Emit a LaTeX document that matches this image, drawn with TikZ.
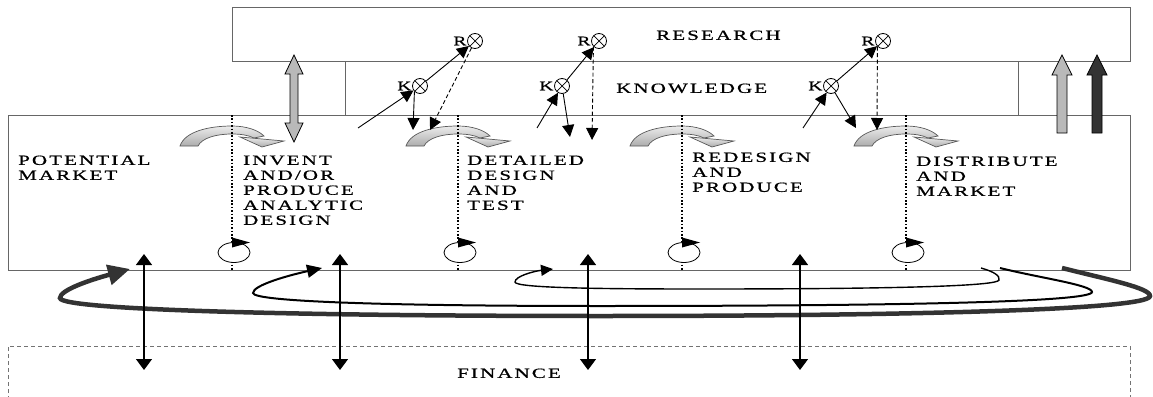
\documentclass[tikz,border=0pt]{standalone}
\usepackage{fontspec}
\setmainfont{Liberation Serif}
\newfontfamily\lbl[FakeStretch=1.5,LetterSpace=15,FakeBold=0.8]{Liberation Serif}
\usetikzlibrary{arrows.meta,calc}
\begin{document}
\begin{tikzpicture}[x=1pt,y=-1pt,
  boxline/.style={draw=black!60, line width=1pt},
  finline/.style={draw=black!55, line width=0.9pt, dash pattern=on 4pt off 3pt},
  lab/.style={font={\lbl\fontsize{14}{15}\selectfont}, inner sep=0pt, align=left, anchor=north west},
  krlab/.style={font={\lbl\fontsize{13}{14}\selectfont}, inner sep=0.5pt, anchor=east},
  xo/.style={circle, draw, minimum size=15pt, inner sep=0pt, line width=0.8pt, fill=white,
    path picture={\draw[line width=0.7pt] (path picture bounding box.south west) -- (path picture bounding box.north east)
      (path picture bounding box.north west) -- (path picture bounding box.south east);}},
  arr/.style={line width=0.9pt, -{Triangle[length=12pt,width=12pt]}},
  darr/.style={line width=0.9pt, dash pattern=on 4pt off 2.5pt, -{Triangle[length=12pt,width=12pt]}},
  finarr/.style={line width=1.3pt, {Triangle[length=11pt,width=16pt]}-{Triangle[length=11pt,width=16pt]}},
  archfill/.style={draw=black!65, line width=0.7pt, top color=gray!15, bottom color=gray!65},
  divider/.style={line width=1.4pt, dash pattern=on 1.6pt off 1.8pt},
  loopA/.style={line width=4.5pt, draw=black!80, -{Triangle[length=22pt,width=20pt]}},
  loopB/.style={line width=2pt, draw=black, -{Triangle[length=15pt,width=13pt]}},
  loopC/.style={line width=1.4pt, draw=black, -{Triangle[length=12pt,width=11pt]}}
]
\useasboundingbox (0,0) rectangle (1153,396);

% boxes
\draw[boxline] (232,8) rectangle (1130,62);
\draw[boxline] (345,62) -- (345,115);
\draw[boxline] (1018,62) -- (1018,115);
\draw[boxline] (8,115) rectangle (1130,270);
\draw[finline] (8,400) -- (8,346) -- (1130,346) -- (1130,400);

% texts
\node[lab] (research) at (656,30.4) {RESEARCH};
\node[lab] (knowledge) at (616,83.4) {KNOWLEDGE};
\node[lab] (potential) at (18,155.4) {POTENTIAL\\MARKET};
\node[lab] (invent) at (243,155.4) {INVENT\\AND/OR\\PRODUCE\\ANALYTIC\\DESIGN};
\node[lab] (detailed) at (467,155.4) {DETAILED\\DESIGN\\AND\\TEST};
\node[lab] (redesign) at (692,152.4) {REDESIGN\\AND\\PRODUCE};
\node[lab] (distribute) at (916,156.4) {DISTRIBUTE\\AND\\MARKET};
\node[lab] (finance) at (457,368.4) {FINANCE};

% stage arches, dividers, small circles
\foreach \xd in {232,458,682,906} {
  \begin{scope}[shift={(\xd,0)}]
    \path[archfill] (-52,146) .. controls (-47,131) and (-22,126) .. (0,126)
      .. controls (14,126) and (26,130) .. (32,136) -- (22,138)
      .. controls (16,135) and (8,134) .. (0,134)
      .. controls (-16,134) and (-30,138) .. (-34,146) -- cycle;
    \path[archfill] (8,137) -- (52,141) -- (30,147) -- cycle;
  \end{scope}
  \draw[divider] (\xd,115) -- (\xd,270);
  \filldraw[draw=black, fill=white, line width=0.8pt] (\xd+2,252.5) ellipse (16 and 10);
  \fill (\xd,237.5) -- (\xd+18,242.5) -- (\xd,247.5) -- cycle;
}

% gray double arrow research <-> market
\filldraw[fill=gray!55, draw=black, line width=0.8pt] (294,55) -- (303,74) -- (298,74) -- (298,123) -- (303,123)
  -- (294,142) -- (285,123) -- (290,123) -- (290,74) -- (285,74) -- cycle;

% right arrows
\filldraw[fill=gray!55, draw=black, line width=0.8pt] (1062,55) -- (1072,75) -- (1067,75) -- (1067,133)
  -- (1057,133) -- (1057,75) -- (1052,75) -- cycle;
\filldraw[fill=black!80, draw=black, line width=0.8pt] (1097,55) -- (1107,75) -- (1102,75) -- (1102,133)
  -- (1092,133) -- (1092,75) -- (1087,75) -- cycle;

% K / R nodes
\node[xo] (r1) at (475,41) {};  \node[krlab] (r1l) at (r1.west) {R};
\node[xo] (k1) at (420,86) {};  \node[krlab] (k1l) at (k1.west) {K};
\node[xo] (r2) at (599,41) {};  \node[krlab] (r2l) at (r2.west) {R};
\node[xo] (k2) at (562,86) {};  \node[krlab] (k2l) at (k2.west) {K};
\node[xo] (r3) at (883,41) {};  \node[krlab] (r3l) at (r3.west) {R};
\node[xo] (k3) at (831,86) {};  \node[krlab] (k3l) at (k3.west) {K};

\coordinate (a1) at (358,128);
\coordinate (b1) at (413,130);
\coordinate (d1) at (430,130);
\draw[arr] (a1) -- (k1);
\draw[arr] (k1) -- (r1);
\draw[arr] (k1.south west) -- (b1);
\draw[darr] (r1) -- (d1);

\coordinate (a2) at (537,128);
\coordinate (b2) at (570,137);
\coordinate (d2) at (592,140);
\draw[arr] (a2) -- (k2);
\draw[arr] (k2) -- (r2);
\draw[arr] (k2) -- (b2);
\draw[darr] (r2.south west) -- (d2);

\coordinate (a3) at (803,128);
\coordinate (b3) at (856,128);
\coordinate (d3) at (877,130);
\draw[arr] (a3) -- (k3);
\draw[arr] (k3) -- (r3);
\draw[arr] (k3) -- (b3);
\draw[darr] (r3.south west) -- (d3);

% feedback loops
\coordinate (l1s) at (1062,268); \coordinate (l1e) at (130,269);
\coordinate (l2s) at (1000,268); \coordinate (l2e) at (322,268);
\coordinate (l3s) at (981,268);  \coordinate (l3e) at (553,269);
\draw[loopA] (l1s) .. controls (1110,280) and (1150,288) .. (1150,296)
  .. controls (1150,310) and (900,316) .. (600,316)
  .. controls (300,316) and (60,310) .. (60,298)
  .. controls (60,290) and (90,280) .. (l1e);
\draw[loopB] (l2s) .. controls (1040,278) and (1092,285) .. (1092,292)
  .. controls (1092,302) and (900,306) .. (600,306)
  .. controls (400,306) and (253,302) .. (253,293)
  .. controls (253,285) and (290,275) .. (l2e);
\draw[loopC] (l3s) .. controls (995,272) and (1000,276) .. (999,280)
  .. controls (998,286) and (900,289) .. (700,289)
  .. controls (600,289) and (515,288) .. (515,282)
  .. controls (515,276) and (535,271) .. (l3e);

% finance double arrows
\foreach \i/\x in {1/144,2/340,3/588,4/800} {
  \coordinate (ft\i) at (\x,254);
  \coordinate (fb\i) at (\x,370);
  \draw[finarr] (ft\i) -- (fb\i);
}
\end{tikzpicture}
\end{document}
